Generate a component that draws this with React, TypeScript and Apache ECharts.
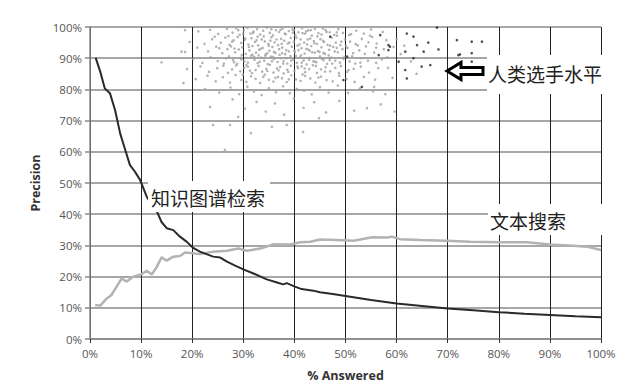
import React, { useEffect, useRef } from "react";
import * as echarts from "echarts";

const kgX = [1.1, 2, 2.9, 3.9, 4.9, 5.9, 6.9, 7.8, 8.8, 9.8, 11.1, 12.1, 13.1, 14, 15, 16.3, 17.6, 18.9, 20.1, 21.5, 22.8, 24.1, 25.5, 26.8, 28.4, 30, 32, 34.6, 36.6, 37.8, 38.5, 40.1, 41.4, 43.7, 45, 47.5, 50, 55, 60, 65, 70, 75, 80, 85, 90, 95, 100];
const kgY = [90.2, 85.7, 80.3, 78.8, 73.4, 65.9, 60.6, 55.8, 53.6, 51, 45.6, 43, 40.8, 37.5, 35.5, 34.9, 32.8, 31.2, 29.3, 28, 27.2, 26.4, 26.1, 24.8, 23.5, 22.3, 21, 19.1, 18.1, 17.5, 17.9, 16.8, 16, 15.5, 15, 14.4, 13.8, 12.5, 11.4, 10.6, 9.8, 9.2, 8.6, 8.1, 7.7, 7.3, 7.0];

const tsX = [1, 2, 3.3, 4.2, 5.2, 6.2, 7.2, 8.5, 10.1, 11.1, 12.1, 13.1, 14, 15, 16.3, 17.6, 18.6, 20.2, 21.5, 24.1, 26.8, 29, 30.7, 33.3, 34.6, 35.9, 39.2, 41.1, 43.1, 45, 48.3, 51.6, 55.2, 58.1, 59, 60.7, 64.6, 69.8, 74.4, 80.3, 85.5, 90, 94.6, 97.2, 100];
const tsY = [10.9, 10.7, 13, 14.1, 16.8, 19.4, 18.4, 20, 20.8, 21.9, 20.7, 23.2, 26.2, 25.1, 26.4, 26.6, 27.7, 27.5, 27.2, 28, 28.3, 29, 28.3, 29, 29.6, 30.4, 30.3, 31, 31.2, 31.9, 31.7, 31.5, 32.6, 32.5, 32.8, 32, 31.7, 31.5, 31.2, 31, 31, 30.3, 29.9, 29.6, 28.5];

const humanGray: number[][] = [
  [21.2,98.6],[23.5,99.1],[25.1,97.8],[26.8,99.4],[27.9,98.2],[28.6,99.6],[29.3,97.5],[30.1,98.9],[30.8,99.7],[31.4,97.9],[32.0,98.5],[32.7,99.3],[33.3,97.6],[33.9,98.8],[34.6,99.8],[35.2,98.1],[35.8,97.3],[36.4,99.0],[37.0,98.4],[37.7,99.5],[38.3,97.7],[38.9,98.7],[39.6,99.2],[40.2,97.4],[40.8,98.3],[41.5,99.6],[42.1,97.9],[42.7,98.9],[43.4,97.2],[44.0,99.4],[44.7,98.0],[45.3,97.6],[46.1,99.0],[46.9,98.3],[47.8,97.5],[48.6,99.3],[49.5,98.1],[50.7,97.4],[52.1,98.8],[53.6,97.9],[55.0,99.2],[57.3,98.4],
  [19.5,95.2],[22.4,94.6],[23.9,96.1],[25.6,95.0],[26.5,96.6],[27.3,94.3],[28.1,95.7],[28.9,96.8],[29.6,94.9],[30.3,95.9],[31.0,94.4],[31.6,96.4],[32.3,95.2],[32.9,94.1],[33.6,96.0],[34.2,95.4],[34.9,94.6],[35.5,96.7],[36.1,95.1],[36.8,94.2],[37.4,96.2],[38.0,95.6],[38.7,94.7],[39.3,96.5],[39.9,95.3],[40.6,94.0],[41.2,96.0],[41.9,95.0],[42.5,94.4],[43.1,96.3],[43.8,95.5],[44.4,94.6],[45.1,96.1],[45.8,95.2],[46.5,94.3],[47.3,96.6],[48.1,95.0],[49.0,94.2],[49.9,96.0],[50.9,95.3],[52.0,94.5],[53.2,96.2],[54.5,95.1],[56.1,94.7],[58.0,95.8],
  [17.9,92.1],[21.0,93.4],[23.1,92.2],[24.7,93.7],[25.9,91.6],[26.9,92.9],[27.6,93.8],[28.4,91.9],[29.1,92.8],[29.8,93.5],[30.5,91.4],[31.2,92.5],[31.8,93.9],[32.5,91.8],[33.1,92.7],[33.8,93.3],[34.4,91.2],[35.1,92.4],[35.7,93.6],[36.3,91.7],[37.0,92.9],[37.6,93.4],[38.2,91.3],[38.9,92.2],[39.5,93.7],[40.1,91.9],[40.8,92.6],[41.4,93.2],[42.0,91.5],[42.7,92.8],[43.3,93.9],[44.0,91.8],[44.6,92.3],[45.3,93.5],[46.0,91.4],[46.8,92.7],[47.6,93.6],[48.5,91.9],[49.4,92.9],[50.4,93.3],[51.5,91.6],[52.7,92.5],[54.0,93.8],[55.6,91.8],[57.5,92.9],[59.4,93.6],
  [14.0,88.7],[20.2,89.8],[22.0,88.5],[23.6,90.3],[25.0,89.1],[26.2,88.3],[27.2,90.6],[28.0,89.4],[28.8,88.2],[29.5,90.1],[30.2,89.0],[30.9,88.6],[31.5,90.8],[32.2,89.5],[32.8,88.4],[33.5,90.2],[34.1,89.2],[34.8,88.1],[35.4,90.5],[36.0,89.7],[36.7,88.8],[37.3,90.0],[37.9,89.1],[38.6,88.3],[39.2,90.7],[39.8,89.6],[40.5,88.5],[41.1,90.3],[41.8,89.3],[42.4,88.0],[43.0,90.1],[43.7,89.0],[44.3,88.7],[45.0,90.6],[45.7,89.4],[46.4,88.2],[47.2,90.2],[48.0,89.2],[48.9,88.6],[49.8,90.4],[50.8,89.0],[51.9,88.3],[53.1,90.0],[54.4,89.2],[56.0,88.5],[58.2,90.3],
  [19.0,86.5],[21.6,87.4],[23.3,85.6],[24.9,86.8],[26.1,87.6],[27.0,85.3],[27.8,86.4],[28.6,87.7],[29.4,85.8],[30.2,86.9],[30.9,87.3],[31.7,85.2],[32.4,86.2],[33.0,87.5],[33.7,85.7],[34.5,86.6],[35.2,87.9],[35.9,85.4],[36.6,86.7],[37.2,87.2],[37.9,85.1],[38.6,86.3],[39.3,87.6],[40.0,85.9],[40.7,86.8],[41.4,87.4],[42.1,85.5],[42.9,86.5],[43.6,87.8],[44.4,85.3],[45.2,86.4],[46.1,87.1],[47.0,85.8],[48.0,86.9],[49.1,87.5],[50.3,85.6],[51.6,86.6],[53.0,87.3],[54.6,85.4],[56.4,86.8],
  [20.7,83.3],[23.0,84.4],[24.6,82.6],[26.0,83.9],[27.4,82.2],[28.5,84.6],[29.6,83.0],[30.6,82.4],[31.5,84.2],[32.4,83.4],[33.3,82.1],[34.2,84.7],[35.0,83.1],[35.9,82.5],[36.8,84.0],[37.6,83.6],[38.5,82.3],[39.4,84.5],[40.3,83.2],[41.2,82.7],[42.1,84.3],[43.1,83.5],[44.1,82.2],[45.2,84.1],[46.3,83.0],[47.5,82.6],[48.8,84.4],[50.2,83.3],[51.8,82.4],[53.6,84.0],[55.8,83.1],
  [18.3,82.0],[22.5,80.1],[25.3,79.0],[27.5,80.6],[29.2,78.5],[30.8,80.9],[32.1,79.3],[33.6,78.2],[35.0,80.4],[36.4,79.1],[37.8,81.0],[39.1,78.8],[40.5,80.2],[41.9,79.6],[43.4,78.4],[45.0,80.7],[46.7,79.0],[48.5,81.2],[50.5,78.9],[52.8,80.3],[55.4,79.4],
  [23.5,74.4],[27.9,76.8],[30.3,73.8],[32.6,76.0],[34.4,72.9],[36.2,75.5],[38.0,71.9],[39.9,77.1],[41.8,74.1],[43.9,75.9],[46.2,72.6],[48.8,76.3],[51.7,73.2],[29.0,71.2],[44.8,70.8],
  [24.1,68.6],[27.4,68.6],[26.4,60.6],[35.6,68.0],[38.5,68.6],[41.7,66.4],[31.5,66.0],[18.6,99.0],[18.6,92.0],
  [55.2,96.8],[56.0,93.4],[57.1,89.6],[58.3,86.9],[59.2,83.7],[60.0,96.1],[60.8,91.3],[55.6,80.8],[57.8,78.5],[61.5,94.0],[62.8,89.0],[63.9,85.0],[56.9,75.2],[59.6,72.9],[54.2,74.0],
  [27.1,97.1],[28.3,93.1],[29.0,99.0],[29.7,91.0],[30.4,96.3],[30.6,87.8],[31.1,93.6],[31.9,98.1],[32.1,90.4],[32.6,95.8],[33.2,88.9],[33.4,93.0],[34.0,97.0],[34.3,90.8],[34.7,85.9],[35.0,94.0],[35.5,99.3],[35.6,89.0],[36.0,92.0],[36.5,96.0],[36.9,86.1],[37.1,91.1],[37.5,94.6],[37.8,88.3],[38.1,97.9],[38.4,92.6],[38.8,85.6],[39.0,95.0],[39.4,89.2],[39.7,98.2],[40.0,92.4],[40.4,96.6],[40.6,87.4],[41.0,94.4],[41.3,90.9],[41.6,98.0],[42.0,86.7],[42.3,93.0],[42.6,96.0],[42.9,89.5],[43.2,99.0],[43.5,91.9],[43.9,94.8],[44.2,87.5],[44.5,97.0],[44.9,92.0],[45.4,89.8],[45.6,95.6],[46.0,85.7],[46.3,98.4],[46.7,90.9],[47.0,94.0],[47.4,88.3],[47.9,92.2],[48.3,97.2],[48.7,85.2],[49.2,95.3],[49.6,89.8],[50.1,93.9],[50.6,86.2],[51.1,97.7],[51.3,90.6],[52.4,94.1],[52.9,88.6],[53.8,91.4],[54.8,97.2],
  [31.3,86.0],[33.9,84.0],[36.3,83.7],[38.9,83.2],[41.6,84.8],[44.7,83.8],[29.9,84.7],[28.2,88.7],[26.6,90.0],[25.3,93.2],[24.4,96.9],[27.8,95.3],[30.0,97.8],[32.8,96.9],[35.3,95.6],[37.3,99.1],[39.9,99.0],[42.3,98.6],[45.6,99.5],[48.3,98.3],[33.0,90.9],[35.8,90.4],[38.4,90.0],[41.4,88.6],[44.0,88.9],[46.9,89.4],[29.6,89.6],[31.8,91.1],[34.7,91.6],[37.6,91.6],[40.3,90.7],[43.0,92.4],[45.7,91.7],[48.3,93.3]
];

const humanDark: number[][] = [
  [56.8,97.4],[58.7,93.7],[62.0,97.9],[63.3,96.9],[64.0,94.2],[66.2,95.0],[68.2,92.8],[71.8,95.8],[74.7,95.3],[76.7,95.3],[65.3,92.1],[61.7,92.1],[63.3,90.0],[64.9,87.3],[66.6,87.8],[72.1,91.0],[74.7,91.6],[74.7,88.9],[62.0,83.5],[61.7,86.2],[60.4,88.9],[56.5,91.0],[58.4,92.6],[67.9,99.8],[58.4,94.2],[72.4,91.2],[47.0,96.9],[49.6,83.0],[53.2,80.8],[50.3,90.5]
];

const kgData = kgX.map((x, i) => [x, kgY[i]]);
const tsData = tsX.map((x, i) => [x, tsY[i]]);

const cjk = '"Noto Sans CJK SC", "Noto Sans", sans-serif';
const latin = '"Open Sans", "Noto Sans", sans-serif';

export default function App() {
  const ref = useRef<HTMLDivElement>(null);
  useEffect(() => {
    if (!ref.current) return;
    const chart = echarts.init(ref.current, undefined, { renderer: "svg" });
    chart.setOption({
      animation: false,
      backgroundColor: "#ffffff",
      grid: { left: 90, right: 39, top: 27, bottom: 50, containLabel: false },
      xAxis: {
        type: "value",
        min: 0,
        max: 100,
        interval: 10,
        name: "% Answered",
        nameLocation: "middle",
        nameGap: 30,
        nameTextStyle: { fontFamily: latin, fontSize: 12.5, fontWeight: "bold", color: "#333" },
        axisLine: { show: true, lineStyle: { color: "#888", width: 1.5 } },
        axisTick: { show: true, length: 4, lineStyle: { color: "#333" } },
        axisLabel: { formatter: (v: number) => `${v}%`, fontFamily: latin, fontSize: 11.5, color: "#555", margin: 8 },
        splitLine: { show: true, lineStyle: { color: "#222", width: 1 } }
      },
      yAxis: {
        type: "value",
        min: 0,
        max: 100,
        interval: 10,
        name: "Precision",
        nameLocation: "middle",
        nameGap: 46,
        nameTextStyle: { fontFamily: latin, fontSize: 12.5, fontWeight: "bold", color: "#333" },
        axisLine: { show: true, lineStyle: { color: "#888", width: 1.5 } },
        axisTick: { show: true, length: 5, lineStyle: { color: "#888", width: 1.5 } },
        axisLabel: { formatter: (v: number) => `${v}%`, fontFamily: latin, fontSize: 11.5, color: "#555", margin: 8 },
        splitLine: { show: true, lineStyle: { color: "#8a8a8a", width: 1.5 } }
      },
      series: [
        {
          type: "scatter",
          data: humanGray,
          symbolSize: 2.6,
          itemStyle: { color: "#a0a0a0" },
          z: 3
        },
        {
          type: "scatter",
          data: humanDark,
          symbolSize: 2.6,
          itemStyle: { color: "#222" },
          z: 3
        },
        {
          type: "line",
          data: tsData,
          showSymbol: false,
          lineStyle: { color: "#b3b3b3", width: 2.5 },
          z: 4
        },
        {
          type: "line",
          data: kgData,
          showSymbol: false,
          lineStyle: { color: "#2a2a2a", width: 2 },
          z: 5
        }
      ],
      graphic: [
        { type: "rect", shape: { x: 148, y: 181, width: 122, height: 31 }, style: { fill: "#fff" }, z: 100 },
        { type: "text", x: 151, y: 197, style: { text: "知识图谱检索", font: `19px ${cjk}`, fill: "#222", textVerticalAlign: "middle" }, z: 101 },
        { type: "rect", shape: { x: 487, y: 55, width: 153, height: 39 }, style: { fill: "#fff" }, z: 100 },
        { type: "text", x: 488, y: 73, style: { text: "人类选手水平", font: `19px ${cjk}`, fill: "#222", textVerticalAlign: "middle" }, z: 101 },
        { type: "rect", shape: { x: 488, y: 204, width: 152, height: 31 }, style: { fill: "#fff" }, z: 100 },
        { type: "text", x: 490, y: 220, style: { text: "文本搜索", font: `19px ${cjk}`, fill: "#222", textVerticalAlign: "middle" }, z: 101 },
        {
          type: "polygon",
          shape: { points: [[447, 71], [461, 62.5], [461, 67.5], [483, 67.5], [483, 74.5], [461, 74.5], [461, 79.5]] },
          style: { fill: "#fff", stroke: "#000", lineWidth: 3, lineJoin: "miter" },
          z: 102
        }
      ]
    });
    return () => chart.dispose();
  }, []);
  return (
    <div style={{ position: "fixed", left: 0, top: 0, width: 640, height: 389, background: "#fff" }}>
      <div ref={ref} style={{ width: 640, height: 389 }} />
    </div>
  );
}
